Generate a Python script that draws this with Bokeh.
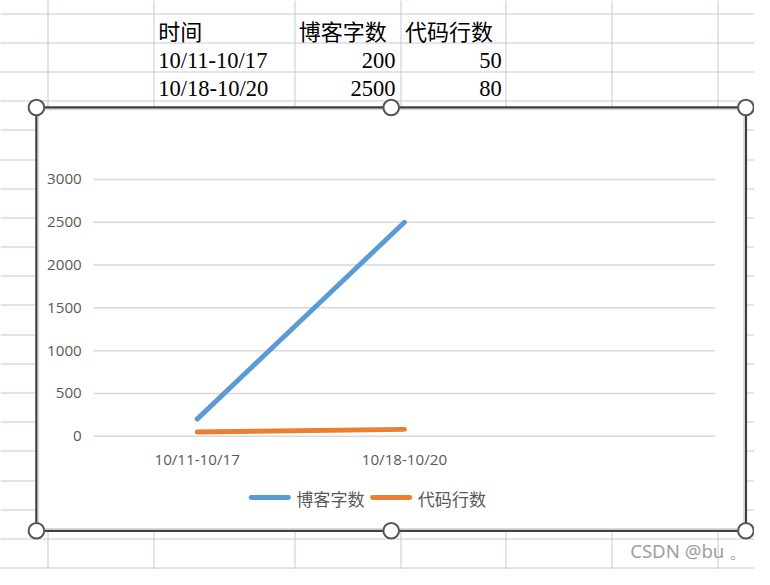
import math
from bokeh.plotting import figure
from bokeh.models import Range1d
from bokeh.core.properties import value
from bokeh.embed import file_html
from bokeh.resources import INLINE

# ---------------- data ----------------
header_time = "时间"
categories = ["10/11-10/17", "10/18-10/20"]
series_names = ["博客字数", "代码行数"]
blog_words = [200, 2500]
code_lines = [50, 80]
y_ticks = [0, 500, 1000, 1500, 2000, 2500, 3000]
y_tick_labels = ["0", "500", "1000", "1500", "2000", "2500", "3000"]
watermark = "CSDN @bu 。"

# ---------------- styles / layout ----------------
series_colors = ["#5B9BD5", "#ED7D31"]
SHEET_GRID = "#c3c9dc"
CHART_GRID = "#d9d9d9"
LABEL = "#595959"

W, H = 754, 569                   # canvas size
REF_W, REF_H = 770, 585           # layout grid (reference pixels)
PLOT_L, PLOT_R = 95, 730          # plot area (layout px)
Y_BOT_PX, Y_TOP_PX = 448, 184     # rows of first / last tick (layout px)
N_SLOTS = 3                       # category slots on the axis
KX, KY = W / REF_W, H / REF_H
K = KX                            # size factor for fonts / widths

scale_x = (PLOT_R - PLOT_L) / N_SLOTS
scale_y = (Y_BOT_PX - Y_TOP_PX) / (y_ticks[-1] - y_ticks[0])
x_start = -0.5 - PLOT_L / scale_x
x_end = x_start + REF_W / scale_x
y_start = y_ticks[0] - (REF_H - Y_BOT_PX) / scale_y
y_end = y_start + REF_H / scale_y


def fs(px):
    return "%.2fpx" % (px * K)


def snap(v, k):
    # put a 1px line on a pixel centre of the canvas
    return (math.floor(v * k) + 0.5) / k


p = figure(width=W, height=H,
           x_range=Range1d(x_start, x_end), y_range=Range1d(y_start, y_end),
           x_axis_location=None, y_axis_location=None,
           toolbar_location=None, output_backend="svg", min_border=0,
           outline_line_color=None, background_fill_color="white",
           border_fill_color="white")
p.xgrid.grid_line_color = None
p.ygrid.grid_line_color = None

# layout-pixel coordinate system for the spreadsheet decoration
p.extra_x_ranges = {"px": Range1d(0, REF_W)}
p.extra_y_ranges = {"px": Range1d(REF_H, 0)}
PX = dict(x_range_name="px", y_range_name="px")

# ---------------- spreadsheet grid ----------------
col_edges = [snap(c, KX) for c in [48.5, 156.5, 300.5, 408.5, 516.5, 624.5, 732.5]]
row_edges = [snap(13.5 + 30 * k, KY) for k in range(20)]
p.segment(x0=col_edges, x1=col_edges, y0=0, y1=REF_H,
          line_color=SHEET_GRID, line_width=1, **PX)
p.segment(x0=0, x1=REF_W, y0=row_edges, y1=row_edges,
          line_color=SHEET_GRID, line_width=1, **PX)

# ---------------- spreadsheet table ----------------
p.text(x=[161, 304.5, 413], y=30, text=[header_time] + series_names,
       text_font=value("Noto Sans CJK SC"), text_font_size=fs(22.5),
       text_color="#000000", text_align="left", text_baseline="middle", **PX)
row_mid = [61.5, 90.5]
p.text(x=161, y=row_mid, text=categories,
       text_font=value("Liberation Serif"), text_font_size=fs(23),
       text_color="#000000", text_align="left", text_baseline="middle", **PX)
p.text(x=403.5, y=row_mid, text=[str(v) for v in blog_words],
       text_font=value("Liberation Serif"), text_font_size=fs(23),
       text_color="#000000", text_align="right", text_baseline="middle", **PX)
p.text(x=512, y=row_mid, text=[str(v) for v in code_lines],
       text_font=value("Liberation Serif"), text_font_size=fs(23),
       text_color="#000000", text_align="right", text_baseline="middle", **PX)

# ---------------- chart box ----------------
p.quad(left=36.7, right=761.2, top=110, bottom=545.2, fill_color="white",
       line_color="#404040", line_width=2.4, **PX)
p.quad(left=38.7, right=759.2, top=112.1, bottom=543.2, fill_color=None,
       line_color="#d9d9d9", line_width=1.6, **PX)

# ---------------- chart content ----------------
xs = list(range(len(categories)))
p.segment(x0=-0.5, x1=N_SLOTS - 0.5, y0=y_ticks, y1=y_ticks,
          line_color=CHART_GRID, line_width=1.5)

p.line(xs, blog_words, line_color=series_colors[0], line_width=5 * K, line_cap="round")
p.line(xs, code_lines, line_color=series_colors[1], line_width=5 * K, line_cap="round")

p.text(x=-0.5, y=y_ticks, text=y_tick_labels, x_offset=-12 * K,
       text_font=value("Open Sans"), text_font_size=fs(15.5), text_color=LABEL,
       text_align="right", text_baseline="middle")

cat_label_y = y_ticks[0] - (471 - Y_BOT_PX) / scale_y
p.text(x=xs, y=cat_label_y, text=categories,
       text_font=value("Open Sans"), text_font_size=fs(15.5), text_color=LABEL,
       text_align="center", text_baseline="middle")

# legend
p.segment(x0=[256, 380], x1=[294, 418], y0=511, y1=511,
          line_color=series_colors, line_width=5 * K, line_cap="round", **PX)
p.text(x=[302, 426], y=511.5, text=series_names,
       text_font=value("Noto Sans CJK SC"), text_font_size=fs(17.5),
       text_color=LABEL, text_align="left", text_baseline="middle", **PX)

# selection handles
hx = [36.7, 399, 761.2, 36.7, 399, 761.2]
hy = [110, 110, 110, 545.2, 545.2, 545.2]
p.scatter(x=hx, y=hy, size=16 * K, marker="circle", fill_color="white",
          line_color="#555555", line_width=2, **PX)

# watermark
p.text(x=643, y=565.5, text=[watermark],
       text_font=value("Noto Sans"), text_font_size=fs(19),
       text_color="#9e9e9e", text_align="left", text_baseline="middle", **PX)

open("out.html", "w").write(file_html(p, INLINE))
